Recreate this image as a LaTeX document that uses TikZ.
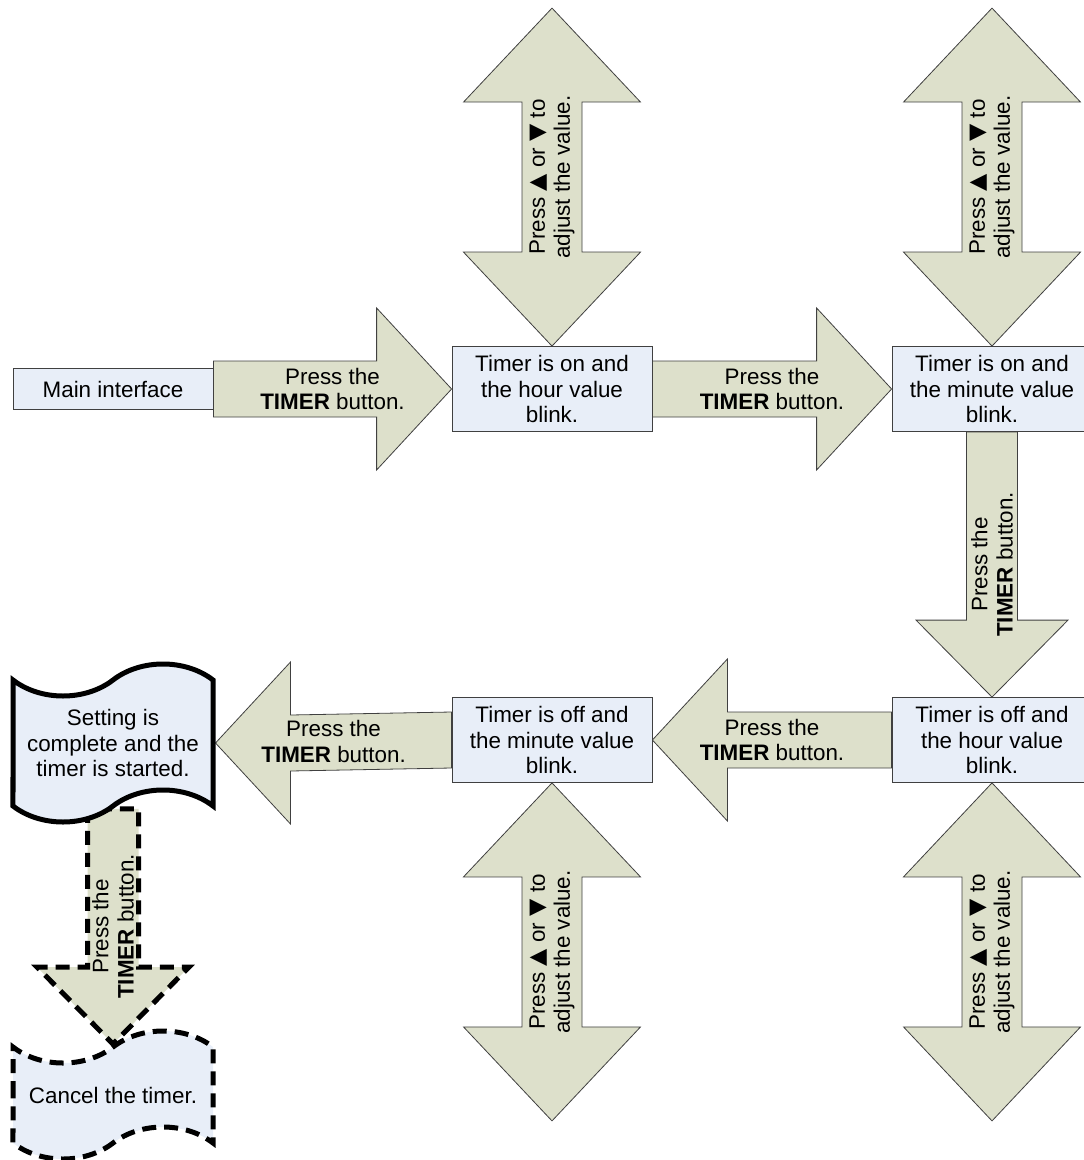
\documentclass[tikz,border=0pt]{standalone}
\usepackage{fontspec}
\setmainfont{Liberation Sans}
\newfontfamily\symfont{DejaVu Sans}
\usetikzlibrary{calc,shapes.symbols,backgrounds}
\definecolor{boxblue}{RGB}{232,238,248}
\definecolor{arrowgreen}{RGB}{221,224,203}

\begin{document}
\begin{tikzpicture}[x=.5pt, y=-.5pt, font=\fontsize{11.2pt}{12.6pt}\selectfont,
	box/.style={draw=black!75, fill=boxblue, minimum width=100pt, minimum height=42.5pt, inner sep=1pt, align=center},
	flag/.style={tape, draw=black, line width=2.5pt, fill=boxblue, minimum width=100pt, inner sep=1pt, align=center, tape bend height=16pt},
	arr/.style={draw=black!75, fill=arrowgreen, line join=miter},
	darr/.style={arr, draw=black, line width=2.5pt, dash pattern=on 7pt off 4pt},
	lbl/.style={align=center, inner sep=0pt}]
	\useasboundingbox (0,0) rectangle (1083,1160);
	% states
	\node[box, minimum height=20.5pt] (main) at (113,389) {Main interface};
	\node[box] (hon) at (552,389) {Timer is on and\\the hour value\\blink.};
	\node[box] (mon) at (992,389) {Timer is on and\\the minute value\\blink.};
	\node[box] (hoff) at (992,740) {Timer is off and\\the hour value\\blink.};
	\node[box] (moff) at (552,740) {Timer is off and\\the minute value\\blink.};
	\node[flag, minimum height=79pt] (done) at (113,743) {Setting is\\complete and the\\timer is started.};
	\node[flag, dash pattern=on 7pt off 4pt, minimum height=64pt] (cancel) at (113,1095) {Cancel the timer.};
	\begin{scope}[on background layer]
		% TIMER button arrows
		\foreach \a/\b/\h [count=\i] in {main.east/hon.west/-75, hon.east/mon.west/-75, hoff.west/moff.east/75, moff.west/done.east/75} {
			\draw[arr] ($(\a)+(0,-28)$) -- ($(\b)+(\h,-28)$) -- ($(\b)+(\h,-81)$) -- (\b) -- ($(\b)+(\h,81)$) -- ($(\b)+(\h,28)$) -- ($(\a)+(0,28)$) -- cycle;
			\node[lbl] (press\i) at ($(\a)!.5!(\b)$) {Press the\\\textbf{TIMER} button.};
		}
		\foreach \a/\b/\st [count=\i from 5] in {mon.south/hoff.north/arr, done.south/cancel.north/darr} {
			\draw[\st] ($(\a)+(-25.5,0)$) -- ($(\b)+(-25.5,-77)$) -- ($(\b)+(-76,-77)$) -- (\b) -- ($(\b)+(76,-77)$) -- ($(\b)+(25.5,-77)$) -- ($(\a)+(25.5,0)$) -- cycle;
			\node[lbl, rotate=90] (press\i) at ($(\a)!.5!(\b)$) {Press the\\\textbf{TIMER} button.};
		}
		% up/down arrows
		\foreach \n/\s/\l/\h/\k [count=\i] in {hon/north/-338/-94/94, mon/north/-338/-94/94, moff/south/338/94/-94, hoff/south/338/94/-94} {
			\coordinate (tip\i) at ($(\n.\s)+(0,\l)$);
			\draw[arr] (\n.\s) -- ($(\n.\s)+(-88.5,\h)$) -- ($(\n.\s)+(-30,\h)$) -- ($(tip\i)+(-30,\k)$) -- ($(tip\i)+(-88.5,\k)$) -- (tip\i) -- ($(tip\i)+(88.5,\k)$) -- ($(tip\i)+(30,\k)$) -- ($(\n.\s)+(30,\h)$) -- ($(\n.\s)+(88.5,\h)$) -- cycle;
			\node[lbl, rotate=90] (adjust\i) at ($(\n.\s)!.5!(tip\i)$) {Press {\symfont ▲} or {\symfont ▼} to\\adjust the value.};
		}
	\end{scope}
\end{tikzpicture}
\end{document}
